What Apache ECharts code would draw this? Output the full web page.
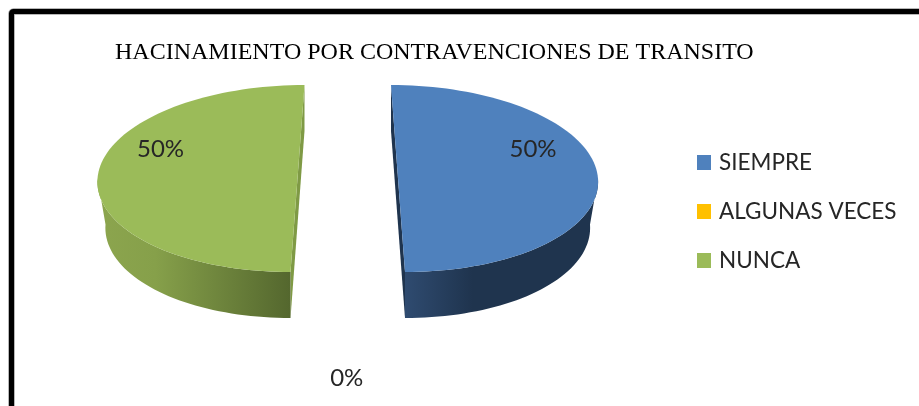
<!DOCTYPE html>
<html lang="es">

<head>
    <meta charset="UTF-8">
    <title>Hacinamiento por contravenciones de transito</title>
    <script src="https://cdn.jsdelivr.net/npm/echarts@6/dist/echarts.min.js"></script>
    <style>
        html, body { margin: 0; padding: 0; background: #fff; overflow: hidden; }
        #chart { width: 919px; height: 406px; }
    </style>
</head>

<body>
    <div id="chart"></div>
    <script>
        const titleText = 'HACINAMIENTO POR CONTRAVENCIONES DE TRANSITO';
        const categories = ['SIEMPRE', 'ALGUNAS VECES', 'NUNCA'];
        const values = [50, 0, 50];
        const colors = ['#4f81bd', '#ffc000', '#9bbb59'];

        // walls of the fake 3D pie: gradient stops and the flat cut face
        const wallStops = [
            [[0, '#2f4b70'], [0.35, '#1f344e'], [1, '#1f344e']],
            [[0, '#bf9000'], [1, '#7f6000']],
            [[0, '#8ca54e'], [0.3, '#86a04a'], [1, '#54672e']]
        ];
        const cutColors = ['#1f344e', '#7f6000', '#7f9a45'];
        // label spot as a fraction of the ellipse radii
        const labelSpots = [[0.675, -0.31], [0, 2.14], [-0.685, -0.31]];

        const pie = { cx: 347.75, cy: 178.5, rx: 200, rxBottom: 192, ry: 93.5, depth: 46, explode: 50.25, lean: 7 };
        const total = values.reduce((a, b) => a + b, 0);

        function renderSlice(i) {
            return function () {
                let before = 0;
                for (let k = 0; k < i; k++) before += values[k];
                const t0 = -Math.PI / 2 + before / total * Math.PI * 2;
                const t1 = t0 + values[i] / total * Math.PI * 2;
                const side = Math.cos((t0 + t1) / 2) >= 0 ? 1 : -1;
                const cx = pie.cx + side * pie.explode;
                const at = (t, rx, dy) => [
                    cx + rx * Math.cos(t) + side * pie.lean * Math.sin(t),
                    pie.cy + pie.ry * Math.sin(t) + dy
                ];
                const children = [];

                if (values[i] > 0) {
                    const top = [[cx, pie.cy]];
                    const wall = [];
                    const wallLow = [];
                    const steps = 90;
                    for (let s = 0; s <= steps; s++) {
                        const t = t0 + (t1 - t0) * s / steps;
                        top.push(at(t, pie.rx, 0));
                        if (Math.sin(t) >= 0) {
                            wall.push(at(t, pie.rx, 0));
                            wallLow.unshift(at(t, pie.rxBottom, pie.depth));
                        }
                    }
                    // straight cut face between the two halves
                    const a = at(t0, pie.rx, 0), b = at(t1, pie.rx, 0);
                    children.push({
                        type: 'polygon',
                        shape: { points: [a, b, [b[0], b[1] + pie.depth], [a[0], a[1] + pie.depth]] },
                        style: { fill: cutColors[i] }
                    });
                    children.push({
                        type: 'polygon',
                        shape: { points: wall.concat(wallLow) },
                        style: {
                            fill: new echarts.graphic.LinearGradient(0, 0, 1, 0, wallStops[i].map(s => ({ offset: s[0], color: s[1] })))
                        }
                    });
                    children.push({
                        type: 'polygon',
                        shape: { points: top },
                        style: { fill: colors[i] }
                    });
                }

                const spot = labelSpots[i];
                children.push({
                    type: 'text',
                    z2: 10,
                    style: {
                        x: (values[i] > 0 ? cx : pie.cx - 1) + spot[0] * pie.rx,
                        y: pie.cy + spot[1] * pie.ry,
                        text: Math.round(values[i] / total * 100) + '%',
                        fill: '#262626',
                        font: '24px Lato',
                        align: 'center',
                        verticalAlign: 'middle'
                    }
                });
                return { type: 'group', children: children };
            };
        }

        const chart = echarts.init(document.getElementById('chart'));
        chart.setOption({
            animation: false,
            backgroundColor: '#ffffff',
            title: {
                text: titleText,
                left: 110,
                top: 36,
                textStyle: { fontFamily: 'Liberation Serif', fontWeight: 'normal', fontSize: 24, color: '#000' }
            },
            legend: {
                orient: 'vertical',
                left: 697,
                top: 151,
                padding: 0,
                icon: 'rect',
                itemWidth: 14,
                itemHeight: 15,
                itemGap: 26,
                data: categories,
                textStyle: { fontFamily: 'Lato', fontSize: 22.5, color: '#262626', padding: [0, 0, 0, 3] }
            },
            graphic: [
                {
                    type: 'rect',
                    shape: { x: 11.5, y: 11.5, width: 1200, height: 800, r: 2 },
                    style: { fill: 'none', stroke: '#a0a0a0', lineWidth: 6.5 },
                    z: -2
                },
                {
                    type: 'rect',
                    shape: { x: 11.5, y: 11.5, width: 1200, height: 800, r: 2 },
                    style: { fill: 'none', stroke: '#000', lineWidth: 5 },
                    z: -1
                }
            ],
            series: categories.map((name, i) => ({
                type: 'custom',
                name: name,
                coordinateSystem: 'none',
                itemStyle: { color: colors[i] },
                data: [values[i]],
                renderItem: renderSlice(i)
            }))
        });
    </script>
</body>

</html>
